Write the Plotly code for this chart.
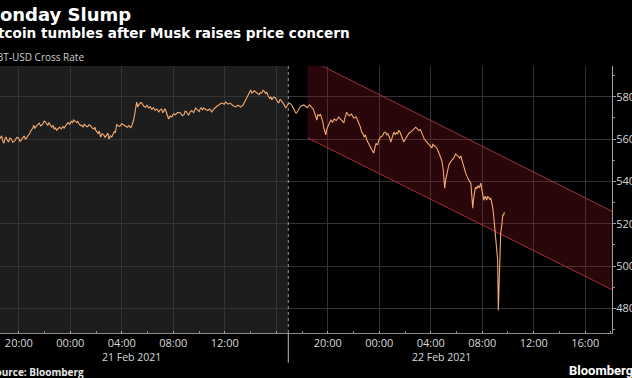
import plotly.graph_objects as go

# ---------------- data ----------------
times = [
    "2021-02-20 18:26", "2021-02-20 18:33", "2021-02-20 18:40", "2021-02-20 18:45", "2021-02-20 18:50",
    "2021-02-20 18:55", "2021-02-20 19:00", "2021-02-20 19:06", "2021-02-20 19:12", "2021-02-20 19:18",
    "2021-02-20 19:25", "2021-02-20 19:32", "2021-02-20 19:40", "2021-02-20 19:50", "2021-02-20 19:59",
    "2021-02-20 20:05", "2021-02-20 20:10", "2021-02-20 20:18", "2021-02-20 20:25", "2021-02-20 20:30",
    "2021-02-20 20:36", "2021-02-20 20:43", "2021-02-20 20:50", "2021-02-20 20:55", "2021-02-20 21:00",
    "2021-02-20 21:05", "2021-02-20 21:09", "2021-02-20 21:14", "2021-02-20 21:20", "2021-02-20 21:28",
    "2021-02-20 21:35", "2021-02-20 21:42", "2021-02-20 21:50", "2021-02-20 21:58", "2021-02-20 22:05",
    "2021-02-20 22:10", "2021-02-20 22:15", "2021-02-20 22:20", "2021-02-20 22:25", "2021-02-20 22:29",
    "2021-02-20 22:33", "2021-02-20 22:39", "2021-02-20 22:45", "2021-02-20 22:50", "2021-02-20 22:56",
    "2021-02-20 23:03", "2021-02-20 23:10", "2021-02-20 23:18", "2021-02-20 23:25", "2021-02-20 23:31",
    "2021-02-20 23:38", "2021-02-20 23:44", "2021-02-20 23:50", "2021-02-20 23:57", "2021-02-21 00:05",
    "2021-02-21 00:10", "2021-02-21 00:15", "2021-02-21 00:22", "2021-02-21 00:30", "2021-02-21 00:35",
    "2021-02-21 00:40", "2021-02-21 00:47", "2021-02-21 00:53", "2021-02-21 00:59", "2021-02-21 01:05",
    "2021-02-21 01:12", "2021-02-21 01:20", "2021-02-21 01:27", "2021-02-21 01:35", "2021-02-21 01:42",
    "2021-02-21 01:50", "2021-02-21 01:54", "2021-02-21 01:58", "2021-02-21 02:04", "2021-02-21 02:10",
    "2021-02-21 02:15", "2021-02-21 02:21", "2021-02-21 02:28", "2021-02-21 02:35", "2021-02-21 02:42",
    "2021-02-21 02:49", "2021-02-21 02:55", "2021-02-21 03:00", "2021-02-21 03:07", "2021-02-21 03:13",
    "2021-02-21 03:19", "2021-02-21 03:25", "2021-02-21 03:30", "2021-02-21 03:36", "2021-02-21 03:43",
    "2021-02-21 03:50", "2021-02-21 04:00", "2021-02-21 04:09", "2021-02-21 04:17", "2021-02-21 04:25",
    "2021-02-21 04:33", "2021-02-21 04:41", "2021-02-21 04:48", "2021-02-21 04:55", "2021-02-21 05:02",
    "2021-02-21 05:09", "2021-02-21 05:14", "2021-02-21 05:20", "2021-02-21 05:26", "2021-02-21 05:33",
    "2021-02-21 05:41", "2021-02-21 05:50", "2021-02-21 05:57", "2021-02-21 06:05", "2021-02-21 06:12",
    "2021-02-21 06:20", "2021-02-21 06:27", "2021-02-21 06:35", "2021-02-21 06:43", "2021-02-21 06:52",
    "2021-02-21 06:58", "2021-02-21 07:05", "2021-02-21 07:10", "2021-02-21 07:15", "2021-02-21 07:20",
    "2021-02-21 07:24", "2021-02-21 07:31", "2021-02-21 07:38", "2021-02-21 07:45", "2021-02-21 07:52",
    "2021-02-21 08:01", "2021-02-21 08:10", "2021-02-21 08:20", "2021-02-21 08:34", "2021-02-21 08:42",
    "2021-02-21 08:50", "2021-02-21 08:55", "2021-02-21 09:00", "2021-02-21 09:06", "2021-02-21 09:12",
    "2021-02-21 09:18", "2021-02-21 09:25", "2021-02-21 09:35", "2021-02-21 09:44", "2021-02-21 09:52",
    "2021-02-21 10:00", "2021-02-21 10:05", "2021-02-21 10:10", "2021-02-21 10:16", "2021-02-21 10:22",
    "2021-02-21 10:31", "2021-02-21 10:40", "2021-02-21 10:50", "2021-02-21 10:59", "2021-02-21 11:07",
    "2021-02-21 11:15", "2021-02-21 11:24", "2021-02-21 11:32", "2021-02-21 11:41", "2021-02-21 11:50",
    "2021-02-21 11:57", "2021-02-21 12:04", "2021-02-21 12:10", "2021-02-21 12:15", "2021-02-21 12:24",
    "2021-02-21 12:32", "2021-02-21 12:41", "2021-02-21 12:50", "2021-02-21 13:02", "2021-02-21 13:14",
    "2021-02-21 13:25", "2021-02-21 13:37", "2021-02-21 13:50", "2021-02-21 14:01", "2021-02-21 14:05",
    "2021-02-21 14:10", "2021-02-21 14:17", "2021-02-21 14:24", "2021-02-21 14:32", "2021-02-21 14:40",
    "2021-02-21 14:46", "2021-02-21 14:52", "2021-02-21 14:58", "2021-02-21 15:05", "2021-02-21 15:10",
    "2021-02-21 15:15", "2021-02-21 15:22", "2021-02-21 15:30", "2021-02-21 15:35", "2021-02-21 15:39",
    "2021-02-21 15:47", "2021-02-21 15:55", "2021-02-21 16:03", "2021-02-21 16:11", "2021-02-21 16:18",
    "2021-02-21 16:25", "2021-02-21 16:35", "2021-02-21 16:44", "2021-02-21 16:51", "2021-02-21 16:58",
    "2021-02-21 17:05", "2021-02-21 17:12", "2021-02-21 17:20", "2021-02-21 17:31", "2021-02-21 17:35",
    "2021-02-21 17:42", "2021-02-21 17:50", "2021-02-21 17:58", "2021-02-21 18:08", "2021-02-21 18:16",
    "2021-02-21 18:25", "2021-02-21 18:35", "2021-02-21 18:45", "2021-02-21 18:52", "2021-02-21 19:00",
    "2021-02-21 19:04", "2021-02-21 19:09", "2021-02-21 19:14", "2021-02-21 19:20", "2021-02-21 19:26",
    "2021-02-21 19:32", "2021-02-21 19:37", "2021-02-21 19:42", "2021-02-21 19:46", "2021-02-21 19:51",
    "2021-02-21 19:55", "2021-02-21 20:00", "2021-02-21 20:07", "2021-02-21 20:14", "2021-02-21 20:22",
    "2021-02-21 20:30", "2021-02-21 20:40", "2021-02-21 20:51", "2021-02-21 20:58", "2021-02-21 21:05",
    "2021-02-21 21:10", "2021-02-21 21:15", "2021-02-21 21:20", "2021-02-21 21:28", "2021-02-21 21:34",
    "2021-02-21 21:40", "2021-02-21 21:50", "2021-02-21 22:01", "2021-02-21 22:12", "2021-02-21 22:24",
    "2021-02-21 22:31", "2021-02-21 22:38", "2021-02-21 22:44", "2021-02-21 22:50", "2021-02-21 22:56",
    "2021-02-21 23:02", "2021-02-21 23:08", "2021-02-21 23:15", "2021-02-21 23:25", "2021-02-21 23:34",
    "2021-02-21 23:40", "2021-02-21 23:45", "2021-02-21 23:52", "2021-02-21 23:58", "2021-02-22 00:06",
    "2021-02-22 00:15", "2021-02-22 00:22", "2021-02-22 00:30", "2021-02-22 00:35", "2021-02-22 00:40",
    "2021-02-22 00:47", "2021-02-22 00:54", "2021-02-22 01:01", "2021-02-22 01:08", "2021-02-22 01:14",
    "2021-02-22 01:20", "2021-02-22 01:26", "2021-02-22 01:31", "2021-02-22 01:38", "2021-02-22 01:45",
    "2021-02-22 01:50", "2021-02-22 01:54", "2021-02-22 02:02", "2021-02-22 02:10", "2021-02-22 02:18",
    "2021-02-22 02:27", "2021-02-22 02:38", "2021-02-22 02:50", "2021-02-22 02:57", "2021-02-22 03:05",
    "2021-02-22 03:12", "2021-02-22 03:18", "2021-02-22 03:24", "2021-02-22 03:30", "2021-02-22 03:36",
    "2021-02-22 03:41", "2021-02-22 03:52", "2021-02-22 04:05", "2021-02-22 04:10", "2021-02-22 04:15",
    "2021-02-22 04:22", "2021-02-22 04:28", "2021-02-22 04:34", "2021-02-22 04:40", "2021-02-22 04:46",
    "2021-02-22 04:51", "2021-02-22 04:58", "2021-02-22 05:05", "2021-02-22 05:10", "2021-02-22 05:15",
    "2021-02-22 05:20", "2021-02-22 05:25", "2021-02-22 05:31", "2021-02-22 05:38", "2021-02-22 05:44",
    "2021-02-22 05:50", "2021-02-22 05:56", "2021-02-22 06:01", "2021-02-22 06:08", "2021-02-22 06:15",
    "2021-02-22 06:20", "2021-02-22 06:25", "2021-02-22 06:30", "2021-02-22 06:35", "2021-02-22 06:40",
    "2021-02-22 06:43", "2021-02-22 06:49", "2021-02-22 06:55", "2021-02-22 07:01", "2021-02-22 07:07",
    "2021-02-22 07:12", "2021-02-22 07:16", "2021-02-22 07:19", "2021-02-22 07:22", "2021-02-22 07:26",
    "2021-02-22 07:30", "2021-02-22 07:35", "2021-02-22 07:40", "2021-02-22 07:47", "2021-02-22 07:53",
    "2021-02-22 07:57", "2021-02-22 08:00", "2021-02-22 08:04", "2021-02-22 08:07", "2021-02-22 08:11",
    "2021-02-22 08:15", "2021-02-22 08:18", "2021-02-22 08:21", "2021-02-22 08:26", "2021-02-22 08:30",
    "2021-02-22 08:35", "2021-02-22 08:40", "2021-02-22 08:45", "2021-02-22 08:50", "2021-02-22 08:54",
    "2021-02-22 08:58", "2021-02-22 09:03", "2021-02-22 09:08", "2021-02-22 09:12", "2021-02-22 09:15",
    "2021-02-22 09:18", "2021-02-22 09:22", "2021-02-22 09:26", "2021-02-22 09:32", "2021-02-22 09:36",
    "2021-02-22 09:40", "2021-02-22 09:43",
]
prices = [
    55950, 56080, 56150, 55900, 55800,
    56020, 56100, 55950, 55860, 56050,
    56000, 55850, 55900, 56080, 56050,
    55880, 55950, 56080, 56150, 56000,
    56050, 56180, 56250, 56380, 56450,
    56520, 56660, 56500, 56600, 56700,
    56750, 56620, 56680, 56850, 56800,
    56700, 56650, 56780, 56700, 56600,
    56560, 56650, 56480, 56530, 56420,
    56500, 56560, 56480, 56600, 56520,
    56660, 56720, 56780, 56700, 56850,
    56760, 56900, 56820, 56780, 56850,
    56720, 56640, 56660, 56560, 56700,
    56620, 56580, 56680, 56620, 56520,
    56480, 56560, 56420, 56340, 56250,
    56380, 56090, 56260, 56200, 56080,
    56190, 56280, 56000, 56150, 56100,
    56250, 56350, 56300, 56700, 56620,
    56600, 56720, 56660, 56600, 56560,
    56640, 56520, 56680, 56900, 57300,
    57750, 57520, 57600, 57720, 57700,
    57560, 57500, 57600, 57470, 57520,
    57400, 57480, 57350, 57420, 57280,
    57380, 57420, 57260, 57300, 57420,
    57370, 57150, 56950, 57100, 57040,
    57200, 57150, 57260, 57230, 57100,
    57150, 57320, 57300, 57200, 57140,
    57280, 57350, 57250, 57470, 57380,
    57300, 57420, 57480, 57380, 57470,
    57400, 57350, 57420, 57280, 57400,
    57500, 57560, 57610, 57680, 57700,
    57640, 57750, 57700, 57650, 57700,
    57610, 57560, 57520, 57600, 57510,
    57600, 57850, 58100, 58320, 58180,
    58200, 58280, 58220, 58150, 58100,
    58200, 58170, 58300, 58250, 58150,
    58220, 58050, 57900, 58000, 57850,
    57980, 57950, 57820, 57700, 57880,
    57800, 57650, 57470, 57600, 57700,
    57680, 57600, 57450, 57230, 57230,
    57380, 57500, 57560, 57610, 57550,
    57480, 57620, 57510, 57420, 57200,
    57050, 56900, 57150, 57100, 57180,
    56990, 56800, 56500, 56300, 56200,
    56450, 56600, 56750, 56900, 56800,
    56950, 56880, 57040, 56950, 56900,
    56820, 56760, 57000, 57270, 57150,
    57100, 57180, 56990, 57050, 56800,
    56600, 56330, 56250, 56100, 56200,
    55950, 55800, 55700, 55500, 55340,
    55600, 55800, 55720, 55950, 56100,
    56150, 56300, 56330, 56200, 56250,
    56100, 55860, 56100, 56330, 56200,
    56300, 56250, 56420, 56300, 56100,
    55950, 55860, 56000, 56150, 56280,
    56330, 56450, 56560, 56480, 56400,
    56450, 56330, 56150, 56000, 55920,
    55860, 55700, 55580, 55750, 55700,
    55650, 55580, 55450, 55300, 55150,
    55000, 54600, 53680, 54100, 54390,
    54650, 54800, 54900, 55000, 55080,
    55150, 55300, 55240, 55180, 55100,
    55200, 55000, 54850, 54700, 54500,
    54390, 54250, 54100, 54000, 53920,
    53300, 52740, 53100, 53400, 53600,
    53730, 53650, 53800, 53700, 53920,
    53700, 53400, 53250, 53110, 53250,
    53300, 53180, 53120, 53300, 53250,
    53150, 53210, 53000, 52700, 52310,
    51900, 51550, 51000, 50280, 47900,
    49000, 49670, 51550, 52000, 52400,
    52410, 52550,
]

channel_x = ["2021-02-21 18:25", "2021-02-22 18:10"]
channel_top = [59806, 52563]
channel_bottom = [56061, 48861]

divider_time = "2021-02-21 16:56"
x_range = ["2021-02-20 18:32", "2021-02-22 18:05"]
y_range = [46842, 59451]

x_tickvals = ["2021-02-20 20:00", "2021-02-21 00:00", "2021-02-21 04:00", "2021-02-21 08:00",
              "2021-02-21 12:00", "2021-02-21 16:00", "2021-02-21 20:00", "2021-02-22 00:00",
              "2021-02-22 04:00", "2021-02-22 08:00", "2021-02-22 12:00", "2021-02-22 16:00"]
x_ticktext = ["20:00", "00:00", "04:00", "08:00", "12:00", "", "20:00", "00:00",
              "04:00", "08:00", "12:00", "16:00"]
date_labels = ["21 Feb 2021", "22 Feb 2021"]
date_label_pos = ["2021-02-21 04:46", "2021-02-22 04:51"]

y_tickvals = [48000, 50000, 52000, 54000, 56000, 58000]
y_ticktext = ["48000", "50000", "52000", "54000", "56000", "58000"]

title = "Monday Slump"
subtitle = "Bitcoin tumbles after Musk raises price concern"
unit_label = "XBT-USD Cross Rate"
source = "Source: Bloomberg"
brand = "Bloomberg"

FONT = "Open Sans"
TITLE_FONT = "DejaVu Sans"
PLOT_W = 612

fig = go.Figure()

# channel fill
fig.add_trace(go.Scatter(
    x=[channel_x[0], channel_x[1], channel_x[1], channel_x[0], channel_x[0]],
    y=[channel_top[0], channel_top[1], channel_bottom[1], channel_bottom[0], channel_top[0]],
    mode="lines", fill="toself", fillcolor="rgba(150,22,34,0.27)",
    line=dict(width=0, color="rgba(0,0,0,0)"), hoverinfo="skip", showlegend=False))
fig.add_trace(go.Scatter(x=channel_x, y=channel_top, mode="lines",
                         line=dict(color="#a0303c", width=1), hoverinfo="skip", showlegend=False))
fig.add_trace(go.Scatter(x=channel_x, y=channel_bottom, mode="lines",
                         line=dict(color="#a0303c", width=1), hoverinfo="skip", showlegend=False))

# price line
fig.add_trace(go.Scatter(x=times, y=prices, mode="lines",
                         line=dict(color="#f4ab70", width=1.1), showlegend=False))

# grey history region and divider
fig.add_shape(type="rect", xref="x", yref="paper", x0=x_range[0], x1=divider_time, y0=0, y1=1,
              fillcolor="#1d1d1d", line=dict(width=0), layer="below")
fig.add_shape(type="line", xref="x", yref="paper", x0=divider_time, x1=divider_time, y0=0, y1=1,
              line=dict(color="#9a9a9a", width=1, dash="dot"))
fig.add_shape(type="line", xref="x", yref="paper", x0=divider_time, x1=divider_time, y0=0, y1=-0.111,
              line=dict(color="#bbbbbb", width=1))

annotations = [
    dict(text="<b>" + title + "</b>", xref="paper", yref="paper", x=133 / PLOT_W, y=1,
         xanchor="right", yanchor="middle", yshift=52, showarrow=False,
         font=dict(family=TITLE_FONT, size=18, color="#ffffff")),
    dict(text="<b>" + subtitle + "</b>", xref="paper", yref="paper", x=352 / PLOT_W, y=1,
         xanchor="right", yanchor="middle", yshift=33, showarrow=False,
         font=dict(family=TITLE_FONT, size=13.6, color="#ffffff")),
    dict(text=unit_label, xref="paper", yref="paper", x=86 / PLOT_W, y=1,
         xanchor="right", yanchor="middle", yshift=9.5, showarrow=False,
         font=dict(family=FONT, size=10, color="#cfcfcf")),
    dict(text="<b>" + source + "</b>", xref="paper", yref="paper", x=86 / PLOT_W, y=0,
         xanchor="right", yanchor="middle", yshift=-38.5, showarrow=False,
         font=dict(family=FONT, size=10, color="#e6e6e6")),
    dict(text="<b>" + brand + "</b>", xref="paper", yref="paper", x=567 / PLOT_W, y=0,
         xanchor="left", yanchor="middle", yshift=-37, showarrow=False,
         font=dict(family="Roboto", size=13, color="#ffffff")),
]
for lbl, pos in zip(date_labels, date_label_pos):
    annotations.append(dict(text=lbl, xref="x", yref="paper", x=pos, y=0, xanchor="center",
                            yanchor="middle", yshift=-23.5, showarrow=False,
                            font=dict(family=FONT, size=10.5, color="#d8d8d8")))

fig.update_layout(
    width=632, height=378, template="none",
    margin=dict(l=0, r=20, t=66, b=45, pad=0),
    paper_bgcolor="#000000", plot_bgcolor="#000000",
    font=dict(family=FONT, color="#d8d8d8", size=11),
    showlegend=False, annotations=annotations,
)
fig.update_xaxes(
    type="date", range=x_range, tickvals=x_tickvals, ticktext=x_ticktext,
    showgrid=True, gridcolor="#333333", gridwidth=1,
    showline=True, linecolor="#8a8a8a", linewidth=1, mirror=False,
    ticks="inside", ticklen=2, tickcolor="#aaaaaa",
    tickfont=dict(family=FONT, size=11, color="#d8d8d8"),
    minor=dict(dtick=2 * 3600 * 1000, tick0="2021-02-20 18:00", ticks="inside", ticklen=2,
               tickcolor="#888888", showgrid=False),
    zeroline=False, automargin=False, fixedrange=True,
)
fig.update_yaxes(
    side="right", range=y_range, tickvals=y_tickvals, ticktext=y_ticktext,
    showgrid=True, gridcolor="#333333", gridwidth=1,
    showline=True, linecolor="#a0a0a0", linewidth=1,
    ticks="outside", ticklen=3, tickcolor="#a0a0a0", ticklabelstandoff=-2,
    tickfont=dict(family=FONT, size=11, color="#d8d8d8"),
    minor=dict(dtick=1000, tick0=0, ticks="outside", ticklen=2, tickcolor="#888888", showgrid=False),
    zeroline=False, automargin=False, fixedrange=True,
)

fig.write_html("out.html", config={"displayModeBar": False},
               post_script="document.body.style.margin='0px';")
